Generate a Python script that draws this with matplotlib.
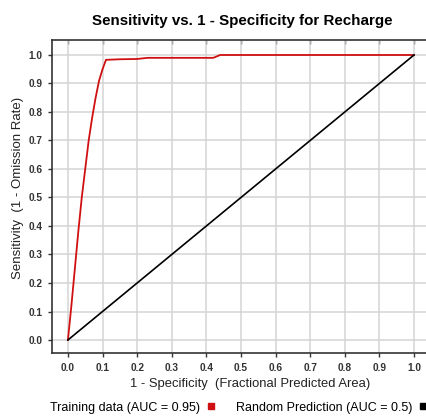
import matplotlib
matplotlib.use("Agg")
import matplotlib.pyplot as plt
from matplotlib.lines import Line2D
import numpy as np

plt.rcParams['font.family'] = ['Liberation Sans', 'DejaVu Sans']

# Data
train_x = [0.0, 0.01, 0.02, 0.03, 0.04, 0.05, 0.06, 0.07, 0.08, 0.09, 0.1, 0.11, 0.15, 0.2, 0.23, 0.42, 0.44, 1.0]
train_y = [0.0, 0.12, 0.25, 0.38, 0.50, 0.60, 0.70, 0.78, 0.85, 0.91, 0.95, 0.983, 0.985, 0.986, 0.99, 0.99, 1.0, 1.0]
rand_x = [0.0, 1.0]
rand_y = [0.0, 1.0]
ticks = [0.0, 0.1, 0.2, 0.3, 0.4, 0.5, 0.6, 0.7, 0.8, 0.9, 1.0]
tick_labels = ["0.0", "0.1", "0.2", "0.3", "0.4", "0.5", "0.6", "0.7", "0.8", "0.9", "1.0"]
title = "Sensitivity vs. 1 - Specificity for Recharge"
xlabel = "1 - Specificity  (Fractional Predicted Area)"
ylabel = "Sensitivity  (1 - Omission Rate)"
legend_labels = ["Training data (AUC = 0.95)", "Random Prediction (AUC = 0.5)"]
colors = ["#d01010", "#000000"]

W, H = 427, 416
fig = plt.figure(figsize=(W / 100, H / 100), dpi=100)
ax = fig.add_axes([52 / W, 1 - 353 / H, (427 - 52) / W, (353 - 40) / H])

ax.plot(train_x, train_y, color=colors[0], lw=1.3, zorder=3)
ax.plot(rand_x, rand_y, color=colors[1], lw=1.2, zorder=3)

ax.set_xlim(-0.046, 1.0376)
ax.set_ylim(-0.0456, 1.0526)
ax.set_xticks(ticks)
ax.set_xticklabels(tick_labels, fontsize=7.3, fontweight='bold', color='#333333')
ax.set_yticks(ticks)
ax.set_yticklabels(tick_labels, fontsize=7.3, fontweight='bold', color='#333333')
ax.grid(True, color='#d4d4d4', lw=1.1, zorder=0)
ax.tick_params(axis='both', direction='out', length=3, width=1, color='#333333', pad=4)
for side in ['left', 'bottom', 'top']:
    ax.spines[side].set_color('#333333')
    ax.spines[side].set_linewidth(1.2)
ax.spines['right'].set_visible(False)

sec = ax.secondary_xaxis('top')
sec.set_xticks(ticks)
sec.tick_params(axis='x', direction='in', length=3, width=1, color='#333333', labeltop=False)
sec.spines['top'].set_visible(False)

ax.set_xlabel(xlabel, fontsize=9.4, color='#222222')
ax.xaxis.set_label_coords((250 - 52) / 375, (353 - 378) / 313)
ax.set_ylabel(ylabel, fontsize=9.5, color='#222222')
ax.yaxis.set_label_coords((24 - 52) / 375, (353 - 188) / 313)
fig.text(242 / W, 1 - 21 / H, title, fontsize=10.9, fontweight='bold', ha='center', va='center')

# legend below
fig.text(50 / W, 1 - 408 / H, legend_labels[0], fontsize=9.0, ha='left', va='center')
fig.add_artist(Line2D([211 / W], [1 - 406 / H], marker='s', ms=4, color=colors[0], ls='none', transform=fig.transFigure))
fig.text(236 / W, 1 - 408 / H, legend_labels[1], fontsize=9.0, ha='left', va='center')
fig.add_artist(Line2D([423 / W], [1 - 406 / H], marker='s', ms=4, color=colors[1], ls='none', transform=fig.transFigure))

fig.savefig("out.png", dpi=100)
